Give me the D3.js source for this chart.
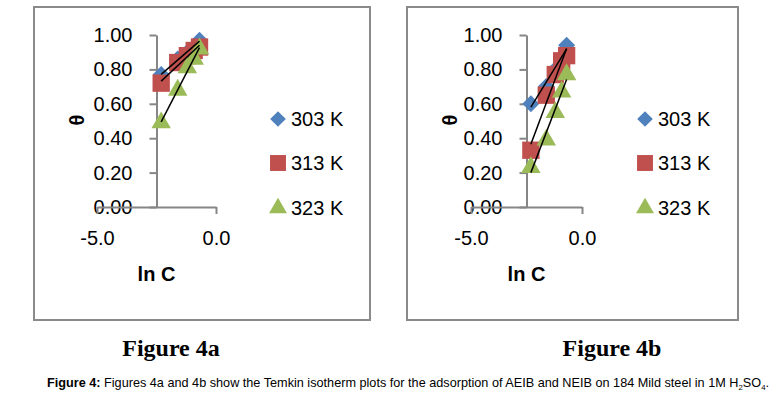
<!DOCTYPE html>
<html>
<head>
<meta charset="utf-8">
<script src="https://cdn.jsdelivr.net/npm/d3@7"></script>
<style>
  body { margin: 0; background: #fff; }
  svg { display: block; }
</style>
</head>
<body>
<svg id="chart" width="777" height="397"></svg>
<script>
// ln C values (same concentrations for every series)
const lnC = [-2.303, -1.609, -1.204, -0.916, -0.693];
const seriesNames = ["303 K", "313 K", "323 K"];
const seriesColors = ["#4F81BD", "#C0504D", "#9BBB59"];

// Figure 4a: AEIB
const theta4a_303 = [0.77, 0.86, 0.90, 0.93, 0.97];
const theta4a_313 = [0.72, 0.84, 0.88, 0.91, 0.93];
const theta4a_323 = [0.49, 0.68, 0.81, 0.86, 0.92];

// Figure 4b: NEIB
const theta4b_303 = [0.60, 0.70, 0.80, 0.87, 0.94];
const theta4b_313 = [0.33, 0.65, 0.77, 0.85, 0.88];
const theta4b_323 = [0.23, 0.39, 0.55, 0.67, 0.77];

const yTicks = [0, 0.2, 0.4, 0.6, 0.8, 1.0];
const xTicks = [-5, 0];

const svg = d3.select("#chart");
const axisColor = "#868686";
const font = "'Liberation Sans', Arial, sans-serif";

//least squares line through the points
function fit(xs, ys) {
    const mx = d3.mean(xs), my = d3.mean(ys);
    let sxy = 0, sxx = 0;
    xs.forEach((x, i) => { sxy += (x - mx) * (ys[i] - my); sxx += (x - mx) * (x - mx); });
    const b = sxy / sxx;
    const a = my - b * mx;
    const x0 = d3.min(xs), x1 = d3.max(xs);
    return [[x0, a + b * x0], [x1, a + b * x1]];
}

function marker(g, i, cx, cy, big) {
    const k = big ? 1 : 0.92;
    if (i === 0) {
        g.append("path")
            .attr("d", d3.symbol(d3.symbolSquare, 144 * k * k)())
            .attr("transform", "translate(" + cx + "," + cy + ")rotate(45)")
            .attr("fill", seriesColors[i]);
    } else if (i === 1) {
        g.append("path")
            .attr("d", d3.symbol(d3.symbolSquare, 300 * k * k)())
            .attr("transform", "translate(" + cx + "," + cy + ")")
            .attr("fill", seriesColors[i]);
    } else {
        g.append("path")
            .attr("d", d3.symbol(d3.symbolTriangle, 165 * k * k)())
            .attr("transform", "translate(" + cx + "," + cy + ")")
            .attr("fill", seriesColors[i]);
    }
}

function panel(opts) {
    const g = svg.append("g");

    //frame
    g.append("rect")
        .attr("x", opts.box[0]).attr("y", 7)
        .attr("width", opts.box[1] - opts.box[0]).attr("height", 313)
        .attr("fill", "none").attr("stroke", "#8a8a8a").attr("stroke-width", 2);

    var x = d3.scaleLinear().domain([-5, 0]).range(opts.xRange);
    var y = d3.scaleLinear().domain([0, 1]).range([207, 35]);

    //Y axis (crosses at -2.5)
    const yAxis = g.append("g")
        .attr("transform", "translate(" + x(-2.5) + ",0)")
        .call(d3.axisLeft(y).tickValues(yTicks).tickSize(7).tickSizeOuter(0).tickPadding(17)
            .tickFormat(d => d.toFixed(2)));

    //X axis
    const xAxis = g.append("g")
        .attr("transform", "translate(0," + y(0) + ")")
        .call(d3.axisBottom(x).tickValues(xTicks).tickSize(7).tickSizeOuter(0).tickPadding(17)
            .tickFormat(d => d.toFixed(1)));

    [yAxis, xAxis].forEach(a => {
        a.selectAll("path, line").attr("stroke", axisColor).attr("stroke-width", 2);
        a.selectAll("text").attr("fill", "#000").style("font-family", font).style("font-size", "20px");
    });

    //axis titles
    g.append("text")
        .attr("transform", "translate(" + (opts.thetaX + 5) + ",120)rotate(-90)")
        .attr("text-anchor", "middle")
        .style("font-family", font).style("font-size", "20px").style("font-weight", "bold")
        .text("θ");
    g.append("text")
        .attr("x", x(-2.5)).attr("y", 281)
        .attr("text-anchor", "middle")
        .style("font-family", font).style("font-size", "20px").style("font-weight", "bold")
        .text("ln C");

    //points
    opts.series.forEach((vals, i) => {
        const pg = g.append("g");
        vals.forEach((v, j) => marker(pg, i, x(lnC[j]), y(v), true));
    });

    //trendlines
    opts.series.forEach(vals => {
        const line = fit(lnC, vals);
        g.append("line")
            .attr("x1", x(line[0][0])).attr("y1", y(line[0][1]))
            .attr("x2", x(line[1][0])).attr("y2", y(line[1][1]))
            .attr("stroke", "#000").attr("stroke-width", 1.5);
    });

    //legend
    seriesNames.forEach((name, i) => {
        const ly = [119, 163, 208][i];
        marker(g, i, opts.legendX, ly, false);
        g.append("text")
            .attr("x", opts.legendX + 13).attr("y", ly + 7)
            .style("font-family", font).style("font-size", "20px")
            .text(name);
    });

    //figure label
    g.append("text")
        .attr("x", opts.label[0]).attr("y", 356)
        .attr("text-anchor", "middle")
        .style("font-family", "'Liberation Serif', 'Times New Roman', serif")
        .style("font-size", "24px").style("font-weight", "bold")
        .text(opts.label[1]);
}

panel({ box: [34, 370], xRange: [97, 216], thetaX: 79, legendX: 278,
        series: [theta4a_303, theta4a_313, theta4a_323], label: [171, "Figure 4a"] });
panel({ box: [407, 738], xRange: [471, 582], thetaX: 452, legendX: 645,
        series: [theta4b_303, theta4b_313, theta4b_323], label: [612, "Figure 4b"] });

//caption
const cap = svg.append("text")
    .attr("x", 47).attr("y", 387)
    .attr("textLength", 722).attr("lengthAdjust", "spacingAndGlyphs")
    .style("font-family", "'Liberation Sans Narrow', 'Arial Narrow', 'Liberation Sans', sans-serif")
    .style("font-size", "13px");
cap.append("tspan").style("font-weight", "bold").text("Figure 4: ");
cap.append("tspan").text("Figures 4a and 4b show the Temkin isotherm plots for the adsorption of AEIB and NEIB on 184 Mild steel in 1M H");
cap.append("tspan").attr("dy", 3).style("font-size", "8px").text("2");
cap.append("tspan").attr("dy", -3).text("SO");
cap.append("tspan").attr("dy", 3).style("font-size", "8px").text("4");
cap.append("tspan").attr("dy", -3).text(".");
</script>
</body>
</html>
